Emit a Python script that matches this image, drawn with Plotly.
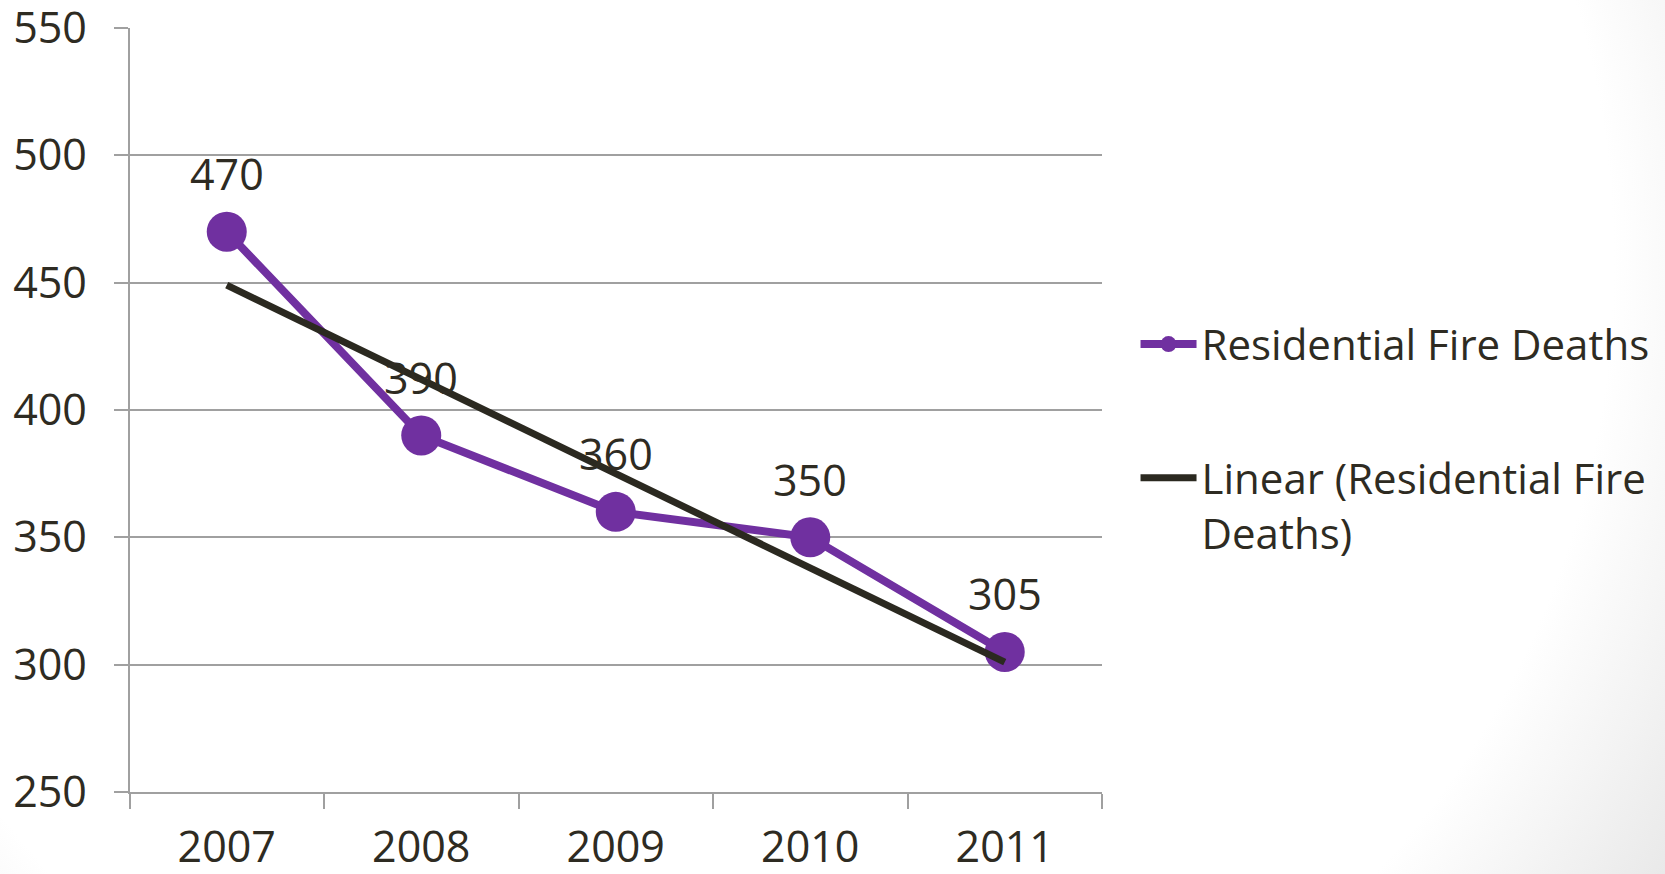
import base64
import numpy as np
import plotly.graph_objects as go

# Residential fire deaths per year
years = ["2007", "2008", "2009", "2010", "2011"]
deaths = [470, 390, 360, 350, 305]
y_ticks = [250, 300, 350, 400, 450, 500, 550]

W, H = 1665, 874
FONT = "Open Sans, Lato, sans-serif"
TXT = "#2e2b22"
GRID = "#a0a0a0"
PURPLE = "#7030a0"
TREND = "#2b2920"

# least-squares trend over the category positions
xs = np.arange(len(deaths))
slope, intercept = np.polyfit(xs, deaths, 1)
trend = (slope * xs + intercept).tolist()

# soft grey vignette behind the slide
svg = (
    f'<svg xmlns="http://www.w3.org/2000/svg" width="{W}" height="{H}" '
    f'viewBox="0 0 {W} {H}" preserveAspectRatio="none"><defs>'
    '<radialGradient id="g" gradientUnits="userSpaceOnUse" cx="713" cy="263" r="1140">'
    '<stop offset="0" stop-color="#ffffff"/><stop offset="0.79" stop-color="#ffffff"/>'
    '<stop offset="1" stop-color="#e8e8e8"/></radialGradient></defs>'
    f'<rect width="{W}" height="{H}" fill="url(#g)"/></svg>'
)
bg_uri = "data:image/svg+xml;base64," + base64.b64encode(svg.encode()).decode()

fig = go.Figure()
fig.add_trace(go.Scatter(
    x=years, y=deaths, mode="lines+markers",
    name="Residential Fire Deaths", legendgroup="a",
    line=dict(color=PURPLE, width=8),
    marker=dict(color=PURPLE, size=40),
))
fig.add_trace(go.Scatter(
    x=years, y=trend, mode="lines",
    name="Linear (Residential Fire<br>Deaths)", legendgroup="b",
    line=dict(color=TREND, width=7),
))

# value labels above each point (category index positions)
for i, v in enumerate(deaths):
    fig.add_annotation(
        x=i, y=v, xref="x", yref="y", text=str(v), showarrow=False, yshift=58,
        font=dict(family=FONT, size=43, color=TXT),
    )

x0, x1 = 129.5 / W, 1102 / W
y0, y1 = (H - 792) / H, (H - 28) / H

fig.update_layout(
    width=W, height=H, template="none",
    margin=dict(l=0, r=0, t=0, b=0, pad=0),
    paper_bgcolor="white", plot_bgcolor="rgba(0,0,0,0)",
    font=dict(family=FONT, size=43, color=TXT),
    showlegend=True,
    legend=dict(
        x=0.682, y=0.645, xanchor="left", yanchor="top",
        bgcolor="rgba(0,0,0,0)", borderwidth=0, valign="top",
        font=dict(family=FONT, size=42, color=TXT),
        itemwidth=56, tracegroupgap=76,
    ),
    xaxis=dict(
        domain=[x0, x1], type="category", range=[-0.5, len(years) - 0.5],
        showgrid=False, zeroline=False,
        showline=True, linecolor=GRID, linewidth=2,
        ticks="outside", tickson="boundaries", ticklen=15,
        tickcolor=GRID, tickwidth=2, ticklabelstandoff=16,
        tickfont=dict(family=FONT, size=43, color=TXT),
        automargin=False,
    ),
    yaxis=dict(
        domain=[y0, y1], range=[250, 550], tickvals=y_ticks,
        showgrid=True, gridcolor=GRID, gridwidth=2, zeroline=False,
        showline=True, linecolor=GRID, linewidth=2,
        ticks="outside", ticklen=14, tickcolor=GRID, tickwidth=2,
        ticklabelstandoff=18, ticklabeloverflow="allow",
        tickfont=dict(family=FONT, size=43, color=TXT),
        automargin=False,
    ),
    images=[dict(
        source=bg_uri, xref="paper", yref="paper", x=0, y=1,
        sizex=1, sizey=1, xanchor="left", yanchor="top",
        sizing="stretch", layer="below",
    )],
)

fig.write_html("out.html")
